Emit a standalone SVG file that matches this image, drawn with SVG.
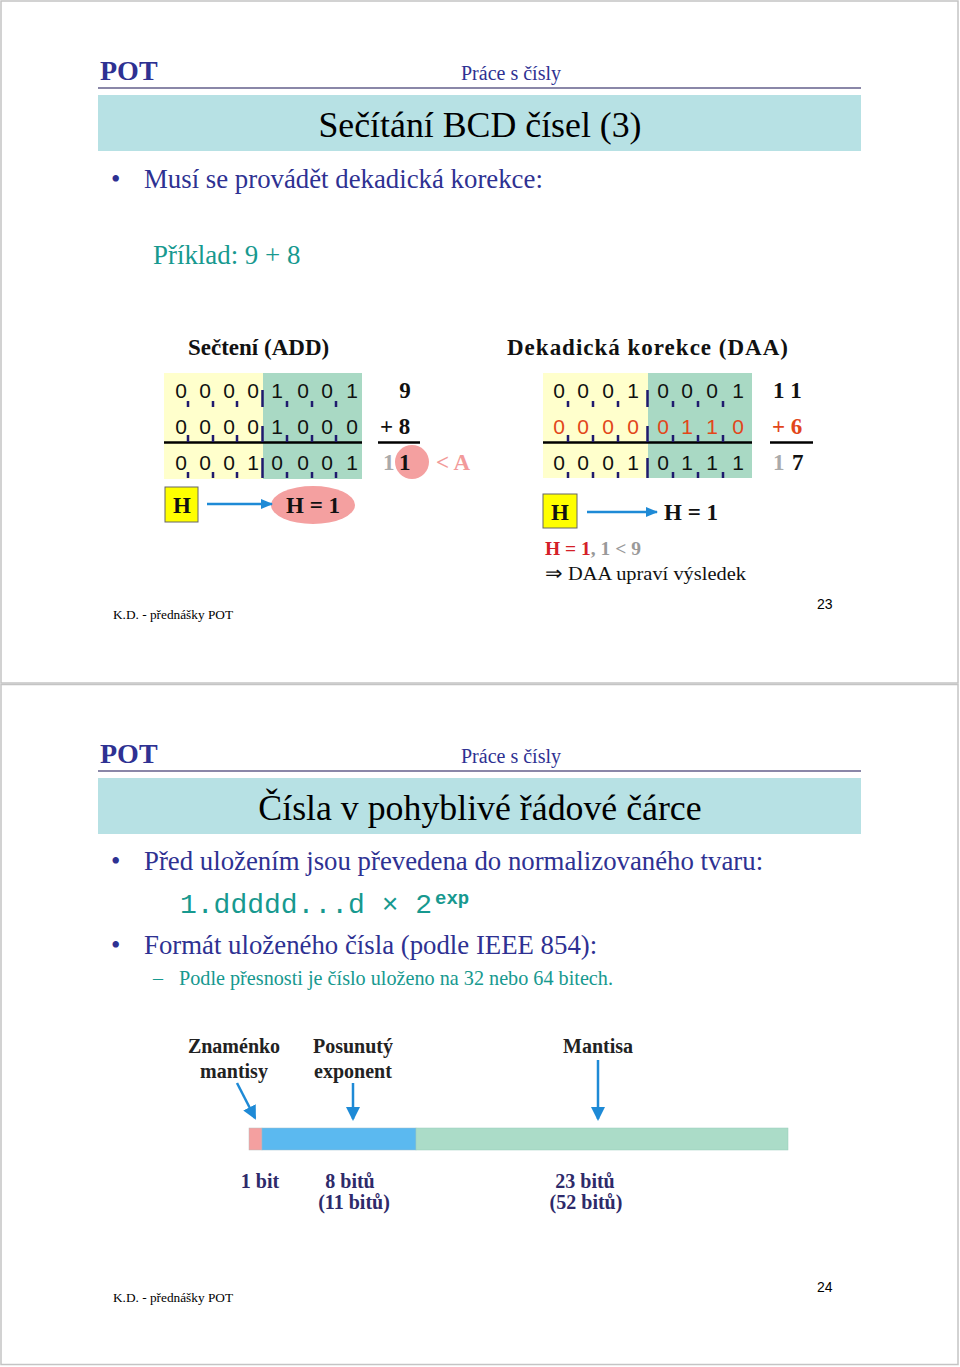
<svg xmlns="http://www.w3.org/2000/svg" width="960" height="1367" viewBox="0 0 960 1367">
<style>
.pot{font-family:"Liberation Serif",serif;font-weight:bold;font-size:28px;fill:#2E3192}
.hdr{font-family:"Liberation Serif",serif;font-size:20px;fill:#2E3192}
.ttl{font-family:"Liberation Serif",serif;font-size:35.8px;fill:#000}
.bul{font-family:"Liberation Serif",serif;font-size:26.8px;fill:#2E3192}
.teal{font-family:"Liberation Serif",serif;fill:#17998F}
.sub{font-family:"Liberation Serif",serif;font-weight:bold;font-size:23px;fill:#111}
.dig{font-family:"Liberation Sans",sans-serif;font-size:21px;fill:#111;text-anchor:middle}
.num{font-family:"Liberation Serif",serif;font-weight:bold;font-size:23px;fill:#111}
.foot{font-family:"Liberation Serif",serif;font-size:13.3px;fill:#000}
.pg{font-family:"Liberation Sans",sans-serif;font-size:14px;fill:#000}
.tick{stroke:#1F1A6E;stroke-width:2.5;fill:none}
.lbl{font-family:"Liberation Serif",serif;font-weight:bold;font-size:20px;fill:#222}
.bits{font-family:"Liberation Serif",serif;font-weight:bold;font-size:20px;fill:#2E2A6A}
.arr{stroke:#1E8AD6;stroke-width:2.5;fill:none}
</style>
<defs>
<marker id="ah" markerWidth="12" markerHeight="10" refX="11" refY="5" orient="auto" markerUnits="userSpaceOnUse" viewBox="0 0 12 10">
<path d="M0,0 L12,5 L0,10 z" fill="#1E8AD6"/>
</marker>
<marker id="ahb" markerWidth="14" markerHeight="14" refX="12" refY="7" orient="auto" markerUnits="userSpaceOnUse" viewBox="0 0 14 14">
<path d="M0,0 L14,7 L0,14 z" fill="#1E8AD6"/>
</marker>
</defs>
<rect width="960" height="1367" fill="#fff"/>
<g id="page-borders" stroke="#c4c4c4" fill="none">
<rect x="1" y="1" width="957" height="682" stroke-width="1.5"/>
<rect x="1" y="684.5" width="957" height="680" stroke-width="1.5"/>
</g>

<!-- PAGE 1 -->
<g id="p1-header">
<text class="pot" x="100" y="80">POT</text>
<text class="hdr" x="461" y="80">Práce s čísly</text>
<line x1="98" y1="88" x2="861" y2="88" stroke="#8A87A8" stroke-width="2"/>
<rect x="98" y="95" width="763" height="56" fill="#B7E1E4"/>
<text class="ttl" x="480" y="137" text-anchor="middle">Sečítání BCD čísel (3)</text>
</g>
<g id="p1-bullets">
<text class="bul" x="111" y="188">•</text>
<text class="bul" x="144" y="188">Musí se provádět dekadická korekce:</text>
<text class="teal" x="153" y="264" font-size="26.9">Příklad: 9 + 8</text>
<text class="sub" x="188" y="355">Sečtení (ADD)</text>
<text class="sub" x="507" y="355" textLength="281" lengthAdjust="spacing">Dekadická korekce (DAA)</text>
</g>

<g id="add-table">
<rect x="164" y="373" width="99" height="106" fill="#FFFFCC"/>
<rect x="263" y="373" width="99" height="106" fill="#A9D9C4"/>
<line x1="164" y1="442.5" x2="362" y2="442.5" stroke="#000" stroke-width="2.5"/>
<text class="dig" x="181 205 229 253 277 303 327 352" y="398">00001001</text>
<text class="dig" x="181 205 229 253 277 303 327 352" y="434">00001000</text>
<text class="dig" x="181 205 229 253 277 303 327 352" y="470">00010001</text>
<path class="tick" d="M188,401v6M213,401v6M237,401v6M287,401v6M312,401v6M336,401v6M262.5,390v17
M188,435v7M213,435v7M237,435v7M287,435v7M312,435v7M336,435v7M262.5,426v16
M188,472v6M213,472v6M237,472v6M287,472v6M312,472v6M336,472v6M262.5,458v20"/>
<text class="num" x="405" y="398" text-anchor="middle">9</text>
<text class="num" x="380" y="434">+ 8</text>
<line x1="378" y1="442.5" x2="420" y2="442.5" stroke="#000" stroke-width="2.5"/>
<circle cx="412" cy="462" r="17" fill="#F4A0A0"/>
<text class="num" x="383" y="470" style="fill:#aaa">1</text>
<text class="num" x="399" y="470">1</text>
<text class="num" x="436" y="470" style="fill:#F29A9A">&lt; A</text>
</g>
<g id="add-h">
<rect x="165" y="487" width="33" height="35" fill="#FFFF00" stroke="#666" stroke-width="1"/>
<text class="num" x="182" y="513" text-anchor="middle">H</text>
</g>
<g id="add-h1">
<ellipse cx="313" cy="505" rx="42" ry="19" fill="#F4A0A0"/>
<text class="num" x="313" y="513" text-anchor="middle">H = 1</text>
</g>

<g id="daa-table">
<rect x="543" y="373" width="105" height="105" fill="#FFFFCC"/>
<rect x="648" y="373" width="104" height="105" fill="#A9D9C4"/>
<line x1="543" y1="442.5" x2="752" y2="442.5" stroke="#000" stroke-width="2.5"/>
<text class="dig" x="559 583 608 633 663 687 712 738" y="398">00010001</text>
<text class="dig" x="559 583 608 633 663 687 712 738" y="434" style="fill:#E2461A">00000110</text>
<text class="dig" x="559 583 608 633 663 687 712 738" y="470">00010111</text>
<path class="tick" d="M568,401v6M593,401v6M618,401v6M673,401v6M698,401v6M723,401v6M647.5,390v17
M568,435v7M593,435v7M618,435v7M673,435v7M698,435v7M723,435v7M647.5,426v16
M568,472v6M593,472v6M618,472v6M673,472v6M698,472v6M723,472v6M647.5,458v20"/>
<text class="num" x="773" y="398">1 1</text>
<text class="num" x="772" y="434" style="fill:#E2461A">+ 6</text>
<line x1="770" y1="442.5" x2="813" y2="442.5" stroke="#000" stroke-width="2.5"/>
<text class="num" x="773" y="470" style="fill:#aaa">1</text>
<text class="num" x="792" y="470">7</text>
</g>
<g id="daa-h">
<rect x="543" y="494" width="34" height="34" fill="#FFFF00" stroke="#666" stroke-width="1"/>
<text class="num" x="560" y="520" text-anchor="middle">H</text>
</g>
<g id="daa-h1">
<text class="num" x="664" y="520">H = 1</text>
</g>
<g id="daa-note">
<text x="545" y="555" font-family="Liberation Serif, serif" font-size="19.5" font-weight="bold"><tspan fill="#D42027">H = 1</tspan><tspan fill="#999">, 1 &lt; 9</tspan></text>
<text x="545" y="580" font-family="Liberation Serif, serif" font-size="19.5" fill="#111" textLength="201" lengthAdjust="spacingAndGlyphs">⇒ DAA upraví výsledek</text>
</g>
<g id="connectors-p1">
<line class="arr" x1="207" y1="504" x2="272" y2="504" marker-end="url(#ah)"/>
<line class="arr" x1="587" y1="512" x2="657" y2="512" marker-end="url(#ah)"/>
</g>
<g id="p1-footer">
<text class="foot" x="113" y="619">K.D. - přednášky POT</text>
<text class="pg" x="817" y="609">23</text>
</g>

<!-- PAGE 2 -->
<g id="p2-header">
<text class="pot" x="100" y="763">POT</text>
<text class="hdr" x="461" y="763">Práce s čísly</text>
<line x1="98" y1="771" x2="861" y2="771" stroke="#8A87A8" stroke-width="2"/>
<rect x="98" y="778" width="763" height="56" fill="#B7E1E4"/>
<text class="ttl" x="480" y="820" text-anchor="middle">Čísla v pohyblivé řádové čárce</text>
</g>
<g id="p2-bullets">
<text class="bul" x="111" y="870">•</text>
<text class="bul" x="144" y="870">Před uložením jsou převedena do normalizovaného tvaru:</text>
<text x="180" y="913" font-family="Liberation Mono, monospace" font-size="28" fill="#17998F">1.ddddd...d × 2</text>
<text x="435" y="904" font-family="Liberation Mono, monospace" font-size="19" font-weight="bold" fill="#17998F">exp</text>
<text class="bul" x="111" y="954">•</text>
<text class="bul" x="144" y="954">Formát uloženého čísla (podle IEEE 854):</text>
<text class="teal" x="153" y="985" font-size="20">–</text>
<text class="teal" x="179" y="985" font-size="20.2">Podle přesnosti je číslo uloženo na 32 nebo 64 bitech.</text>
</g>
<g id="label-sign">
<text class="lbl" x="234" y="1053" text-anchor="middle">Znaménko</text>
<text class="lbl" x="234" y="1078" text-anchor="middle">mantisy</text>
</g>
<g id="label-exp">
<text class="lbl" x="353" y="1053" text-anchor="middle">Posunutý</text>
<text class="lbl" x="353" y="1078" text-anchor="middle">exponent</text>
</g>
<g id="label-mant">
<text class="lbl" x="598" y="1053" text-anchor="middle">Mantisa</text>
</g>
<g id="bar">
<rect x="249" y="1128" width="13" height="22" fill="#F4A0A0" stroke="#bbb" stroke-width="0.5"/>
<rect x="262" y="1128" width="154" height="22" fill="#5BB9F0" stroke="#9bc" stroke-width="0.5"/>
<rect x="416" y="1128" width="372" height="22" fill="#ABDCC8" stroke="#9cb" stroke-width="0.5"/>
</g>
<g id="connectors-p2">
<line class="arr" x1="237" y1="1083" x2="255" y2="1118" marker-end="url(#ahb)"/>
<line class="arr" x1="353" y1="1083" x2="353" y2="1119" marker-end="url(#ahb)"/>
<line class="arr" x1="598" y1="1060" x2="598" y2="1119" marker-end="url(#ahb)"/>
</g>
<g id="bit-labels">
<text class="bits" x="260" y="1188" text-anchor="middle">1 bit</text>
<text class="bits" x="350" y="1188" text-anchor="middle">8 bitů</text>
<text class="bits" x="354" y="1209" text-anchor="middle">(11 bitů)</text>
<text class="bits" x="585" y="1188" text-anchor="middle">23 bitů</text>
<text class="bits" x="586" y="1209" text-anchor="middle">(52 bitů)</text>
</g>
<g id="p2-footer">
<text class="foot" x="113" y="1302">K.D. - přednášky POT</text>
<text class="pg" x="817" y="1292">24</text>
</g>
</svg>
